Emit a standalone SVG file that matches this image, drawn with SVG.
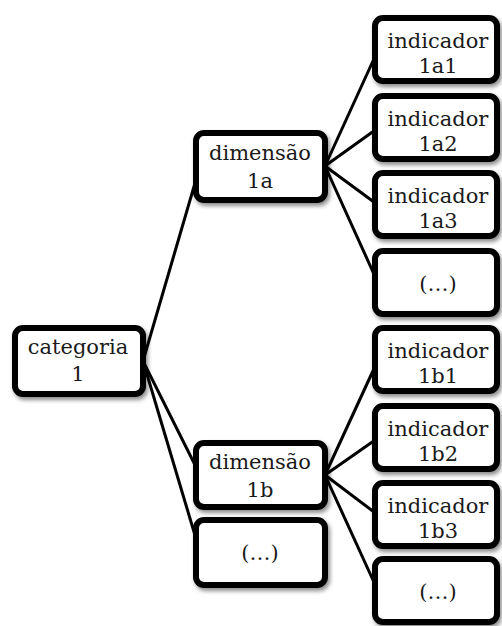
<svg xmlns="http://www.w3.org/2000/svg" width="502" height="626" viewBox="0 0 502 626">
  <style>
    .box { fill: #ffffff; stroke: #000000; stroke-width: 6; filter: url(#shadow); }
    .lbl { font-family: "DejaVu Serif", "Liberation Serif", serif; font-size: 21px; fill: #1a1a1a; text-anchor: middle; }
    .link { stroke: #000000; stroke-width: 3; fill: none; }
  </style>
  <defs>
    <filter id="shadow" x="-10%" y="-10%" width="125%" height="130%">
      <feDropShadow dx="2" dy="3" stdDeviation="2" flood-color="#000000" flood-opacity="0.45"/>
    </filter>
  </defs>

  <!-- connectors, drawn beneath the boxes -->
  <g id="connectors">
    <line class="link" x1="143" y1="361" x2="200" y2="166"/>
    <line class="link" x1="143" y1="361" x2="200" y2="475"/>
    <line class="link" x1="143" y1="361" x2="200" y2="552"/>

    <line class="link" x1="325" y1="166" x2="378" y2="50"/>
    <line class="link" x1="325" y1="166" x2="378" y2="128"/>
    <line class="link" x1="325" y1="166" x2="378" y2="205"/>
    <line class="link" x1="325" y1="166" x2="378" y2="283"/>

    <line class="link" x1="325" y1="475" x2="378" y2="360"/>
    <line class="link" x1="325" y1="475" x2="378" y2="438"/>
    <line class="link" x1="325" y1="475" x2="378" y2="515"/>
    <line class="link" x1="325" y1="475" x2="378" y2="591"/>
  </g>

  <g id="categoria-1">
    <rect class="box" x="15" y="328" width="128" height="66" rx="8"/>
    <text class="lbl" x="78" y="354">categoria</text>
    <text class="lbl" x="78" y="381">1</text>
  </g>

  <g id="dimensao-1a">
    <rect class="box" x="196" y="133" width="129" height="67" rx="8"/>
    <text class="lbl" x="260" y="160">dimensão</text>
    <text class="lbl" x="260" y="188">1a</text>
  </g>

  <g id="dimensao-1b">
    <rect class="box" x="196" y="443" width="129" height="64" rx="8"/>
    <text class="lbl" x="260" y="469">dimensão</text>
    <text class="lbl" x="260" y="497">1b</text>
  </g>

  <g id="dimensao-mais">
    <rect class="box" x="196" y="520" width="129" height="65" rx="8"/>
    <text class="lbl" x="260" y="560">(…)</text>
  </g>

  <g id="indicador-1a1">
    <rect class="box" x="375" y="18" width="122" height="63" rx="8"/>
    <text class="lbl" x="438" y="48">indicador</text>
    <text class="lbl" x="438" y="73">1a1</text>
  </g>

  <g id="indicador-1a2">
    <rect class="box" x="375" y="96" width="122" height="63" rx="8"/>
    <text class="lbl" x="438" y="126">indicador</text>
    <text class="lbl" x="438" y="151">1a2</text>
  </g>

  <g id="indicador-1a3">
    <rect class="box" x="375" y="173" width="122" height="63" rx="8"/>
    <text class="lbl" x="438" y="203">indicador</text>
    <text class="lbl" x="438" y="228">1a3</text>
  </g>

  <g id="indicador-1a-mais">
    <rect class="box" x="375" y="251" width="122" height="63" rx="8"/>
    <text class="lbl" x="438" y="291">(…)</text>
  </g>

  <g id="indicador-1b1">
    <rect class="box" x="375" y="328" width="122" height="63" rx="8"/>
    <text class="lbl" x="438" y="358">indicador</text>
    <text class="lbl" x="438" y="383">1b1</text>
  </g>

  <g id="indicador-1b2">
    <rect class="box" x="375" y="406" width="122" height="63" rx="8"/>
    <text class="lbl" x="438" y="436">indicador</text>
    <text class="lbl" x="438" y="461">1b2</text>
  </g>

  <g id="indicador-1b3">
    <rect class="box" x="375" y="483" width="122" height="63" rx="8"/>
    <text class="lbl" x="438" y="513">indicador</text>
    <text class="lbl" x="438" y="538">1b3</text>
  </g>

  <g id="indicador-1b-mais">
    <rect class="box" x="375" y="559" width="122" height="63" rx="8"/>
    <text class="lbl" x="438" y="599">(…)</text>
  </g>
</svg>
